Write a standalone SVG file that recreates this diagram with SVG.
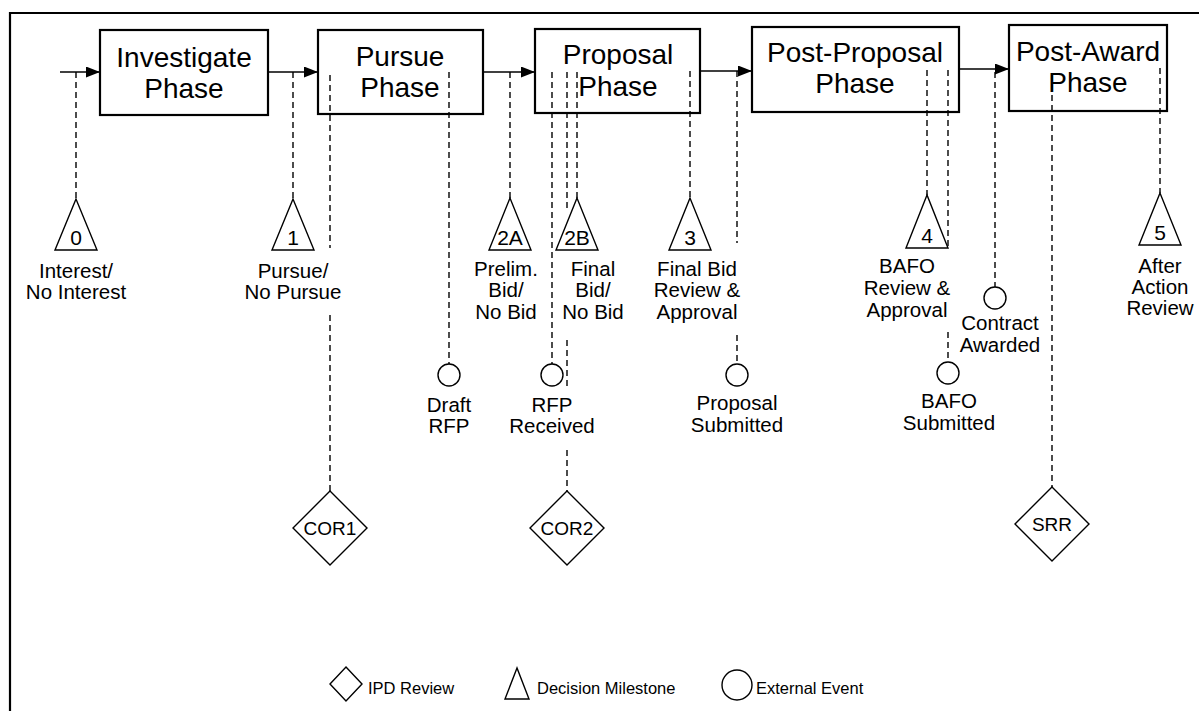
<svg xmlns="http://www.w3.org/2000/svg" width="1199" height="711" viewBox="0 0 1199 711">
<defs>
<marker id="arr" viewBox="0 0 14 11" refX="14" refY="5.5" markerWidth="14" markerHeight="11" markerUnits="userSpaceOnUse" orient="auto">
<path d="M0,0 L14,5.5 L0,11 z" fill="#000"/>
</marker>
<style>
.box{fill:none;stroke:#000;stroke-width:2.2}
.bt{font-family:"Liberation Sans",Arial,sans-serif;font-size:28px;text-anchor:middle;fill:#000}
.lb{font-family:"Liberation Sans",Arial,sans-serif;font-size:20.5px;text-anchor:middle;fill:#000}
.nm{font-family:"Liberation Sans",Arial,sans-serif;font-size:21px;text-anchor:middle;fill:#000}
.dm{font-family:"Liberation Sans",Arial,sans-serif;font-size:19px;text-anchor:middle;fill:#000}
.lg{font-family:"Liberation Sans",Arial,sans-serif;font-size:16.5px;fill:#000}
.sh{fill:#fff;stroke:#000;stroke-width:1.4}
.dash{stroke:#000;stroke-width:1.4;stroke-dasharray:6,4;fill:none}
.flow{stroke:#000;stroke-width:1.6;fill:none;marker-end:url(#arr)}
</style>
</defs>
<rect width="1199" height="711" fill="#fff"/>
<path d="M10,711 L10,13 L1199,13" fill="none" stroke="#000" stroke-width="2.2"/>

<g id="investigate">
<rect class="box" x="100" y="30" width="168" height="85"/>
<text class="bt" x="184" y="67">Investigate</text>
<text class="bt" x="184" y="98">Phase</text>
</g>
<g id="pursue">
<rect class="box" x="318" y="30" width="165" height="84"/>
<text class="bt" x="400" y="66">Pursue</text>
<text class="bt" x="400" y="97">Phase</text>
</g>
<g id="proposal">
<rect class="box" x="535" y="29" width="165" height="84"/>
<text class="bt" x="618" y="64">Proposal</text>
<text class="bt" x="618" y="96">Phase</text>
</g>
<g id="postproposal">
<rect class="box" x="752" y="27" width="207" height="85"/>
<text class="bt" x="855" y="62">Post-Proposal</text>
<text class="bt" x="855" y="93">Phase</text>
</g>
<g id="postaward">
<rect class="box" x="1009" y="25" width="158" height="86"/>
<text class="bt" x="1088" y="61">Post-Award</text>
<text class="bt" x="1088" y="92">Phase</text>
</g>

<g id="connectors">
<line class="flow" x1="60" y1="72" x2="100" y2="72"/>
<line class="flow" x1="268" y1="72" x2="318" y2="72"/>
<line class="flow" x1="483" y1="72" x2="535" y2="72"/>
<line class="flow" x1="700" y1="71" x2="752" y2="71"/>
<line class="flow" x1="959" y1="69" x2="1009" y2="69"/>

<line class="dash" x1="76" y1="72" x2="76" y2="199"/>
<line class="dash" x1="293" y1="72" x2="293" y2="199"/>
<line class="dash" x1="330" y1="75" x2="330" y2="248"/>
<line class="dash" x1="330" y1="315" x2="330" y2="491"/>
<line class="dash" x1="449" y1="72" x2="449" y2="364"/>
<line class="dash" x1="510" y1="72" x2="510" y2="198"/>
<line class="dash" x1="552" y1="72" x2="552" y2="364"/>
<line class="dash" x1="567" y1="72" x2="567" y2="212"/>
<line class="dash" x1="567" y1="340" x2="567" y2="390"/>
<line class="dash" x1="567" y1="450" x2="567" y2="491"/>
<line class="dash" x1="577" y1="72" x2="577" y2="198"/>
<line class="dash" x1="690" y1="71" x2="690" y2="198"/>
<line class="dash" x1="737" y1="71" x2="737" y2="243"/>
<line class="dash" x1="737" y1="335" x2="737" y2="364"/>
<line class="dash" x1="927" y1="70" x2="927" y2="195"/>
<line class="dash" x1="948" y1="70" x2="948" y2="248"/>
<line class="dash" x1="948" y1="332" x2="948" y2="362"/>
<line class="dash" x1="995" y1="72" x2="995" y2="287"/>
<line class="dash" x1="1052" y1="75" x2="1052" y2="487"/>
<line class="dash" x1="1160" y1="68" x2="1160" y2="193"/>
</g>

<g id="m0">
<polygon class="sh" points="76,199 55,250 97,250"/>
<text class="nm" x="76" y="245">0</text>
<text class="lb" x="76" y="278">Interest/</text>
<text class="lb" x="76" y="299">No Interest</text>
</g>
<g id="m1">
<polygon class="sh" points="293,199 272,250 314,250"/>
<text class="nm" x="293" y="245">1</text>
<text class="lb" x="293" y="278">Pursue/</text>
<text class="lb" x="293" y="299">No Pursue</text>
</g>
<g id="m2a">
<polygon class="sh" points="510,198 489,250 531,250"/>
<text class="nm" x="510" y="245">2A</text>
<text class="lb" x="506" y="276">Prelim.</text>
<text class="lb" x="506" y="297">Bid/</text>
<text class="lb" x="506" y="319">No Bid</text>
</g>
<g id="m2b">
<polygon class="sh" points="577,198 556,250 598,250"/>
<text class="nm" x="577" y="245">2B</text>
<text class="lb" x="593" y="276">Final</text>
<text class="lb" x="593" y="297">Bid/</text>
<text class="lb" x="593" y="319">No Bid</text>
</g>
<g id="m3">
<polygon class="sh" points="690,198 669,250 711,250"/>
<text class="nm" x="690" y="245">3</text>
<text class="lb" x="697" y="276">Final Bid</text>
<text class="lb" x="697" y="297">Review &amp;</text>
<text class="lb" x="697" y="319">Approval</text>
</g>
<g id="m4">
<polygon class="sh" points="927,195 906,248 948,248"/>
<text class="nm" x="927" y="243">4</text>
<text class="lb" x="907" y="273">BAFO</text>
<text class="lb" x="907" y="295">Review &amp;</text>
<text class="lb" x="907" y="317">Approval</text>
</g>
<g id="m5">
<polygon class="sh" points="1160,193 1139,245 1181,245"/>
<text class="nm" x="1160" y="240">5</text>
<text class="lb" x="1160" y="273">After</text>
<text class="lb" x="1160" y="294">Action</text>
<text class="lb" x="1160" y="315">Review</text>
</g>

<g id="draftrfp">
<circle class="sh" cx="449" cy="375" r="11"/>
<text class="lb" x="449" y="412">Draft</text>
<text class="lb" x="449" y="433">RFP</text>
</g>
<g id="rfpreceived">
<circle class="sh" cx="552" cy="375" r="11"/>
<text class="lb" x="552" y="412">RFP</text>
<text class="lb" x="552" y="433">Received</text>
</g>
<g id="proposalsubmitted">
<circle class="sh" cx="737" cy="375" r="11"/>
<text class="lb" x="737" y="410">Proposal</text>
<text class="lb" x="737" y="432">Submitted</text>
</g>
<g id="bafosubmitted">
<circle class="sh" cx="948" cy="373" r="11"/>
<text class="lb" x="949" y="408">BAFO</text>
<text class="lb" x="949" y="430">Submitted</text>
</g>
<g id="contractawarded">
<circle class="sh" cx="995" cy="298" r="11"/>
<text class="lb" x="1000" y="330">Contract</text>
<text class="lb" x="1000" y="352">Awarded</text>
</g>

<g id="cor1">
<polygon class="sh" points="330,491 367,528 330,565 293,528"/>
<text class="dm" x="330" y="535">COR1</text>
</g>
<g id="cor2">
<polygon class="sh" points="567,491 604,528 567,565 530,528"/>
<text class="dm" x="567" y="535">COR2</text>
</g>
<g id="srr">
<polygon class="sh" points="1052,487 1089,524 1052,561 1015,524"/>
<text class="dm" x="1052" y="531">SRR</text>
</g>

<g id="legend">
<polygon class="sh" points="346,667 362,684 346,701 330,684"/>
<text class="lg" x="368" y="694">IPD Review</text>
<polygon class="sh" points="517,668 505,699 529,699"/>
<text class="lg" x="537" y="694">Decision Milestone</text>
<circle class="sh" cx="737" cy="685" r="15"/>
<text class="lg" x="756" y="694">External Event</text>
</g>
</svg>
